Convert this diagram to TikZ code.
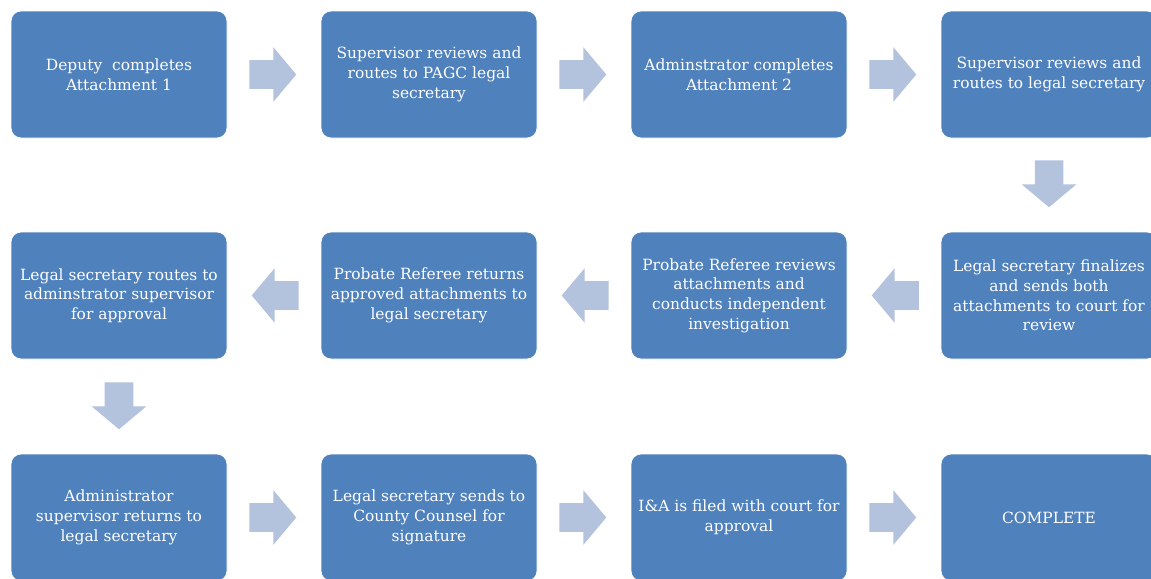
\documentclass[tikz,border=0pt]{standalone}
\usepackage{fontspec}
\setmainfont{DejaVu Serif}
\usetikzlibrary{shapes.arrows}

\definecolor{boxblue}{HTML}{4F81BD}
\definecolor{arrowblue}{HTML}{B3C2DD}

\begin{document}
\begin{tikzpicture}
        [x=0.75pt, y=-0.75pt,
        stepbox/.style={draw=white, line width=0.6pt, fill=boxblue, rounded corners=7.5pt, text=white,
          minimum width=162pt, minimum height=95.25pt, align=center, inner sep=0,
          font=\fontsize{11.6}{14.8}\selectfont},
        flow/.style={single arrow, fill=arrowblue, draw=none, inner xsep=0, inner ysep=10.5pt, anchor=tail,
          minimum height=35.25pt, single arrow head extend=9.75pt, single arrow tip angle=100}]

        \clip (0,0) rectangle (1151,578);

        % first row, left to right
        \node[stepbox] (s1) at (119, 74.5) {Deputy\ \ completes\\Attachment 1};
        \node[stepbox] (s2) at (429, 74.5) {Supervisor reviews and\\routes to PAGC legal\\secretary};
        \node[stepbox] (s3) at (739, 74.5) {Adminstrator completes\\Attachment 2};
        \node[stepbox] (s4) at (1049, 74.5) {Supervisor reviews and\\routes to legal secretary};

        % second row, right to left
        \node[stepbox] (s5) at (1049, 295.5) {Legal secretary finalizes\\and sends both\\attachments to court for\\review};
        \node[stepbox] (s6) at (739, 295.5) {Probate Referee reviews\\attachments and\\conducts independent\\investigation};
        \node[stepbox] (s7) at (429, 295.5) {Probate Referee returns\\approved attachments to\\legal secretary};
        \node[stepbox] (s8) at (119, 295.5) {Legal secretary routes to\\adminstrator supervisor\\for approval};

        % third row
        \node[stepbox] (s9) at (119, 517.5) {Administrator\\supervisor returns to\\legal secretary};
        \node[stepbox] (s10) at (429, 517.5) {Legal secretary sends to\\County Counsel for\\signature};
        \node[stepbox] (s11) at (739, 517.5) {I\&A is filed with court for\\approval};
        \node[stepbox] (s12) at (1049, 517.5) {COMPLETE};

        % block arrows between the steps (placed by their tails)
        \node[flow] (a1) at (249, 74.5) {};
        \node[flow] (a2) at (559, 74.5) {};
        \node[flow] (a3) at (869, 74.5) {};
        \node[flow, rotate=-90] (a4) at (1049, 160) {};
        \node[flow, rotate=180] (a5) at (919, 295.5) {};
        \node[flow, rotate=180] (a6) at (609, 295.5) {};
        \node[flow, rotate=180] (a7) at (299, 295.5) {};
        \node[flow, rotate=-90] (a8) at (119, 382) {};
        \node[flow] (a9) at (249, 517.5) {};
        \node[flow] (a10) at (559, 517.5) {};
        \node[flow] (a11) at (869, 517.5) {};

      \end{tikzpicture}
\end{document}
